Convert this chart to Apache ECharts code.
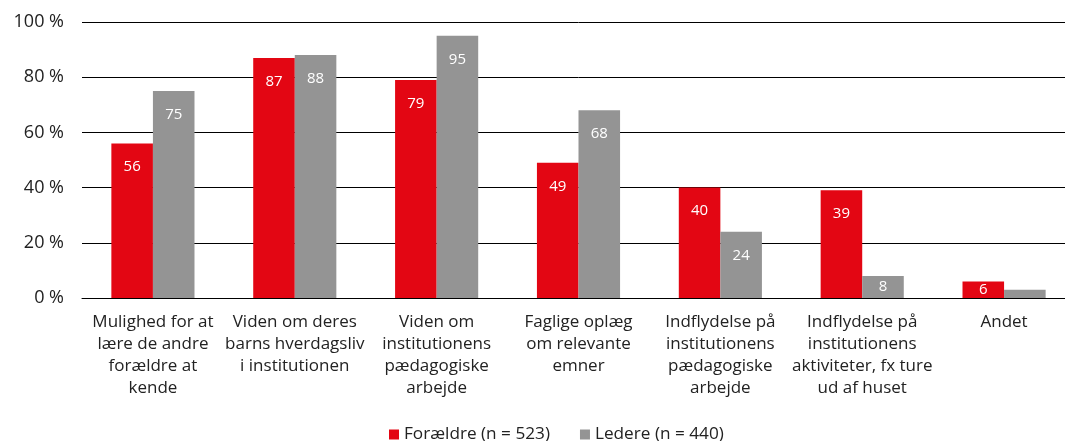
<!DOCTYPE html>
<html><head><meta charset="utf-8">
<script src="https://cdn.jsdelivr.net/npm/echarts@6/dist/echarts.min.js"></script>
<style>html,body{margin:0;padding:0;background:#fff;overflow:hidden;width:1065px;height:441px}#c{width:1075px;height:441px}</style>
</head><body><div id="c"></div>
<script>
const categories = [
  "Mulighed for at\nlære de andre\nforældre at\nkende",
  "Viden om deres\nbarns hverdagsliv\ni institutionen",
  "Viden om\ninstitutionens\npædagogiske\narbejde",
  "Faglige oplæg\nom relevante\nemner",
  "Indflydelse på\ninstitutionens\npædagogiske\narbejde",
  "Indflydelse på\ninstitutionens\naktiviteter, fx ture\nud af huset",
  "Andet"
];
const foraeldre = [56, 87, 79, 49, 40, 39, 6];
const ledere = [75, 88, 95, 68, 24, 8, 3];
const yTicks = [0, 20, 40, 60, 80, 100];
const seriesNames = ["Forældre (n = 523)", "Ledere (n = 440)"];

const font = "Open Sans";
const chart = echarts.init(document.getElementById('c'));
function mkData(arr) {
  return arr.map(v => {
    if (v < 5) return { value: v, label: { show: false } };
    if (v < 10) return { value: v, label: { position: 'inside' } };
    return v;
  });
}
const lbl = {
  show: true, position: 'insideTop', color: '#fff', fontSize: 15, fontFamily: font, distance: 16
};
chart.setOption({
  animation: false,
  textStyle: { fontFamily: font },
  grid: { left: 82, right: 0, top: 22, bottom: 143, containLabel: false },
  legend: {
    top: 421, left: 384, itemWidth: 10, itemHeight: 10, itemGap: 30,
    icon: 'rect', textStyle: { fontSize: 17.2, color: '#222', fontFamily: font },
    data: seriesNames
  },
  xAxis: {
    type: 'category', data: categories,
    axisLine: { show: true, lineStyle: { color: '#000', width: 1 } },
    axisTick: { show: false },
    axisLabel: { interval: 0, fontSize: 17, color: '#222', lineHeight: 22, margin: 13, fontFamily: font }
  },
  yAxis: {
    type: 'value', min: 0, max: 100, interval: 20,
    axisLine: { show: false }, axisTick: { show: false },
    splitLine: { lineStyle: { color: '#000', width: 1 } },
    axisLabel: { fontSize: 18, color: '#222', margin: 18, fontFamily: font,
      formatter: v => yTicks.includes(v) ? v + ' %' : '' }
  },
  series: [
    { name: seriesNames[0], type: 'bar', data: mkData(foraeldre), barWidth: '29.3%', barGap: '0%',
      itemStyle: { color: '#e30613' }, label: lbl },
    { name: seriesNames[1], type: 'bar', data: mkData(ledere), barWidth: '29.3%',
      itemStyle: { color: '#949494' }, label: lbl }
  ]
});
</script></body></html>
